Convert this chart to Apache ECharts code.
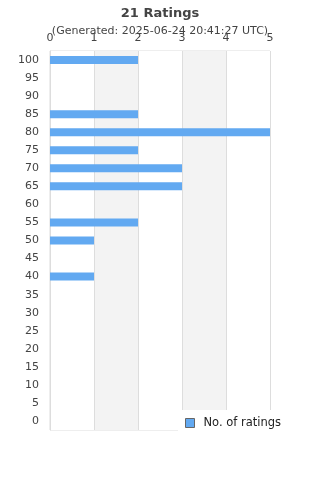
<!DOCTYPE html>
<html>
<head>
<meta charset="utf-8">
<script src="https://cdn.jsdelivr.net/npm/echarts@6/dist/echarts.min.js"></script>
<style>html,body{margin:0;padding:0;background:#fff}#c{width:320px;height:480px}</style>
</head>
<body>
<div id="c"></div>
<script>
var categories = ['0','5','10','15','20','25','30','35','40','45','50','55','60','65','70','75','80','85','90','95','100'];
var counts = [0,0,0,0,0,0,0,0,1,0,1,2,0,3,3,2,5,2,0,0,2];
var xTicks = [0,1,2,3,4,5];
var chart = echarts.init(document.getElementById('c'), null, {renderer:'canvas'});
chart.setOption({
  animation:false,
  title:{
    text:'21 Ratings',
    subtext:'(Generated: 2025-06-24 20:41:27 UTC)',
    left:'center', top:2, itemGap:6,
    textStyle:{fontFamily:'DejaVu Sans', fontSize:13, fontWeight:'bold', color:'#444'},
    subtextStyle:{fontFamily:'DejaVu Sans', fontSize:11, color:'#444'}
  },
  legend:{
    data:['No. of ratings'],
    left:178, top:410,
    backgroundColor:'#fff',
    padding:[7,40,10,7],
    itemWidth:9, itemHeight:9,
    icon:'rect',
    itemStyle:{borderColor:'#666', borderWidth:1},
    textStyle:{fontFamily:'DejaVu Sans', fontSize:11.5, color:'#222', padding:[0,0,0,4]},
    z:10
  },
  grid:{left:50, right:50, top:51, bottom:50, show:true, borderColor:'#ddd', borderWidth:1, backgroundColor:'transparent'},
  xAxis:{
    type:'value', position:'top', min:xTicks[0], max:xTicks[xTicks.length-1], interval:1,
    axisLine:{show:false}, axisTick:{show:false},
    axisLabel:{margin:7, fontFamily:'DejaVu Sans', fontSize:11, color:'#444'},
    splitLine:{show:true, lineStyle:{color:'#ddd'}},
    splitArea:{show:true, areaStyle:{color:['#fff','#f3f3f3']}}
  },
  yAxis:{
    type:'category', data:categories,
    axisLine:{show:true, lineStyle:{color:'#ddd'}}, axisTick:{show:false},
    axisLabel:{margin:11, fontFamily:'DejaVu Sans', fontSize:11, color:'#444', interval:0},
    splitLine:{show:false}
  },
  series:[{
    name:'No. of ratings', type:'bar', data:counts, barWidth:8,
    itemStyle:{color:'#62a9f1'}
  }]
});
</script>
</body>
</html>
